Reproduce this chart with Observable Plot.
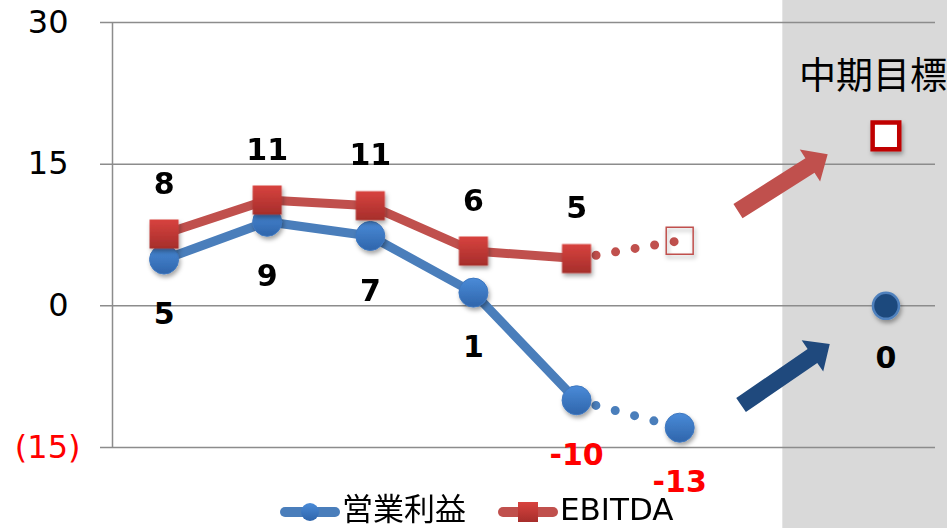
<!DOCTYPE html>
<html>
<head>
<meta charset="utf-8">
<script src="https://cdn.jsdelivr.net/npm/d3@7"></script>
<script src="https://cdn.jsdelivr.net/npm/@observablehq/plot@0.6"></script>
<style>
  html, body { margin: 0; padding: 0; background: #ffffff; }
  #chart svg { display: block; }
</style>
</head>
<body>
<div id="chart"></div>
<script>
// ---- data ----
const xIndex = [0, 1, 2, 3, 4, 5];                 // periods (no axis labels shown)
const opProfit = [4.9, 8.9, 7.4, 1.4, -10.0, -12.9]; // 営業利益
const opLabels = ["5", "9", "7", "1", "-10", "-13"];
const ebitda = [7.6, 11.2, 10.6, 5.8, 5.0, 6.9];     // EBITDA
const ebitdaLabels = ["8", "11", "11", "6", "5"];
const lastActual = 4;                               // solid up to here, dotted after
const targetX = 7;
const targetOp = 0;
const targetOpLabel = "0";
const targetEbitda = 18;
const targetTitle = "中期目標";
const targetStart = 6;                              // shaded target column begins
const yTicks = [30, 15, 0, -15];
const yTickLabels = ["30", "15", "0", "(15)"];
const seriesNames = ["営業利益", "EBITDA"];
const arrowFrom = [[5.57, 9.98], [5.60, -10.56]];
const arrowTo = [[6.44, 16.0], [6.46, -4.1]];

// ---- styles ----
const BLUE = "#4a7ebb", RED = "#c0504d", NAVY = "#1f497d";
const LATIN = "'DejaVu Sans', Verdana, sans-serif";
const CJK = "'Noto Sans CJK JP', 'Noto Sans', sans-serif";

const op = xIndex.map((x, i) => ({x, y: opProfit[i], label: opLabels[i]}));
const eb = xIndex.map((x, i) => ({x, y: ebitda[i], label: ebitdaLabels[i]}));
const opSolid = op.filter(d => d.x <= lastActual);
const opDot = op.filter(d => d.x >= lastActual);
const ebSolid = eb.filter(d => d.x <= lastActual);
const ebDot = eb.filter(d => d.x >= lastActual);
const ebForecast = eb.filter(d => d.x > lastActual);
const ebLabeled = eb.filter(d => d.label !== undefined);
const tgtOp = [{x: targetX, y: targetOp, label: targetOpLabel}];
const tgtEb = [{x: targetX, y: targetEbitda}];
const ticks = yTicks.map((v, i) => ({v, label: yTickLabels[i]}));

const plot = Plot.plot({
  width: 947,
  height: 528,
  marginLeft: 112,
  marginRight: 10,
  marginTop: 22,
  marginBottom: 81,
  x: {domain: [-0.5, 7.5], axis: null},
  y: {domain: [-15, 30], axis: null},
  style: {background: "transparent", overflow: "visible"},
  marks: [
    Plot.rect([0], {x1: targetStart, x2: 7.5, y1: -15, y2: 30, fill: "#d9d9d9",
      insetRight: -10, insetTop: -22, insetBottom: -81}),
    Plot.ruleY(yTicks, {stroke: "#8c8c8c", strokeWidth: 1.5, insetLeft: -12, insetRight: 2}),
    Plot.ruleX([-0.5], {y1: -15, y2: 30, stroke: "#8c8c8c", strokeWidth: 1.5}),
    Plot.text(ticks.filter(d => d.v >= 0), {y: "v", text: "label", frameAnchor: "left",
      textAnchor: "end", dx: -44, fontSize: 32, fontFamily: LATIN, fill: "black"}),
    Plot.text(ticks.filter(d => d.v < 0), {y: "v", text: "label", frameAnchor: "left",
      textAnchor: "end", dx: -32, fontSize: 32, fontFamily: LATIN, fill: "#ff0000"}),
    Plot.text([targetTitle], {x: targetX, text: d => d, frameAnchor: "top", dx: -13, dy: 40,
      fontSize: 37, fontFamily: CJK, fill: "black"}),

    // 営業利益
    Plot.line(opSolid, {x: "x", y: "y", stroke: BLUE, strokeWidth: 9}),
    Plot.line(opDot, {x: "x", y: "y", stroke: BLUE, strokeWidth: 9, strokeDasharray: "0 20",
      strokeLinecap: "round"}),
    Plot.dot(op, {x: "x", y: "y", r: 14.5, fill: "url(#gBlue)", stroke: "#3f78c0", strokeWidth: 1}),
    Plot.dot(tgtOp, {x: "x", y: "y", r: 13, fill: NAVY, stroke: "#4f81bd", strokeWidth: 2.5}),

    // EBITDA
    Plot.line(ebSolid, {x: "x", y: "y", stroke: RED, strokeWidth: 9}),
    Plot.line(ebDot, {x: "x", y: "y", stroke: RED, strokeWidth: 9, strokeDasharray: "0 19.8",
      strokeLinecap: "round"}),
    Plot.dot(ebSolid, {x: "x", y: "y", symbol: "square", r: 16.4, fill: "url(#gRed)"}),
    Plot.dot(ebForecast, {x: "x", y: "y", symbol: "square", r: 15.2, fill: "none", stroke: RED, strokeWidth: 1.5}),
    Plot.dot(tgtEb, {x: "x", y: "y", symbol: "square", r: 15, fill: "white", stroke: "#c00000", strokeWidth: 4.5}),

    // value labels
    Plot.text(ebLabeled, {x: "x", y: "y", text: "label", dy: -50, fontSize: 30, fontWeight: "bold",
      fontFamily: LATIN, fill: "black"}),
    Plot.text(op.filter(d => d.y >= 0), {x: "x", y: "y", text: "label", dy: 55, fontSize: 30,
      fontWeight: "bold", fontFamily: LATIN, fill: "black"}),
    Plot.text(op.filter(d => d.y < 0), {x: "x", y: "y", text: "label", dy: 55, fontSize: 30,
      fontWeight: "bold", fontFamily: LATIN, fill: "#ff0000"}),
    Plot.text(tgtOp, {x: "x", y: "y", text: "label", dy: 53, fontSize: 30,
      fontWeight: "bold", fontFamily: LATIN, fill: "black"})
  ]
});

document.getElementById("chart").appendChild(plot);

// ---- defs: gradients and shadow ----
const svg = d3.select(plot);
const defs = svg.insert("defs", ":first-child");
const gb = defs.append("linearGradient").attr("id", "gBlue").attr("x1", 0).attr("y1", 0).attr("x2", 0).attr("y2", 1);
gb.append("stop").attr("offset", "0%").attr("stop-color", "#4a8bd8");
gb.append("stop").attr("offset", "100%").attr("stop-color", "#2f65ab");
const gr = defs.append("linearGradient").attr("id", "gRed").attr("x1", 0).attr("y1", 0).attr("x2", 0).attr("y2", 1);
gr.append("stop").attr("offset", "0%").attr("stop-color", "#d8433f");
gr.append("stop").attr("offset", "100%").attr("stop-color", "#a62e2b");
const f = defs.append("filter").attr("id", "sh").attr("x", "-50%").attr("y", "-50%").attr("width", "200%").attr("height", "200%");
f.append("feDropShadow").attr("dx", 1.5).attr("dy", 3).attr("stdDeviation", 2)
  .attr("flood-color", "#000").attr("flood-opacity", 0.35);
svg.selectAll('g[aria-label="dot"]').attr("filter", "url(#sh)");

// ---- block arrows toward the target ----
const sx = plot.scale("x"), sy = plot.scale("y");
const arrowColors = [RED, NAVY];
arrowFrom.forEach((from, i) => {
  const T = [sx.apply(from[0]), sy.apply(from[1])];
  const P = [sx.apply(arrowTo[i][0]), sy.apply(arrowTo[i][1])];
  const dx = P[0] - T[0], dy = P[1] - T[1], L = Math.hypot(dx, dy);
  const u = [dx / L, dy / L], n = [-u[1], u[0]];
  const w = 8.5, hw = 19, hl = 21;
  const B = [P[0] - u[0] * hl, P[1] - u[1] * hl];
  const pts = [
    [T[0] + n[0] * w, T[1] + n[1] * w],
    [B[0] + n[0] * w, B[1] + n[1] * w],
    [B[0] + n[0] * hw, B[1] + n[1] * hw],
    P,
    [B[0] - n[0] * hw, B[1] - n[1] * hw],
    [B[0] - n[0] * w, B[1] - n[1] * w],
    [T[0] - n[0] * w, T[1] - n[1] * w]
  ];
  svg.append("polygon").attr("points", pts.map(p => p.join(",")).join(" ")).attr("fill", arrowColors[i]);
});

// ---- legend (bottom) ----
const lg = svg.append("g").attr("text-anchor", "start");
const ly = 512;
const items = [
  {x0: 280, color: BLUE, name: seriesNames[0], font: CJK, marker: "circle"},
  {x0: 498, color: RED, name: seriesNames[1], font: LATIN, marker: "square"}
];
items.forEach(it => {
  lg.append("line").attr("x1", it.x0 + 5).attr("x2", it.x0 + 55).attr("y1", ly).attr("y2", ly)
    .attr("stroke", it.color).attr("stroke-width", 10).attr("stroke-linecap", "round");
  if (it.marker === "circle") {
    lg.append("circle").attr("cx", it.x0 + 30).attr("cy", ly).attr("r", 9).attr("fill", "url(#gBlue)");
  } else {
    lg.append("rect").attr("x", it.x0 + 20).attr("y", ly - 10).attr("width", 20).attr("height", 20).attr("fill", "url(#gRed)");
  }
  lg.append("text").attr("x", it.x0 + 62).attr("y", ly + 8).attr("font-size", 31)
    .attr("text-anchor", "start")
    .attr("font-family", it.font).attr("fill", "black").text(it.name);
});
</script>
</body>
</html>
